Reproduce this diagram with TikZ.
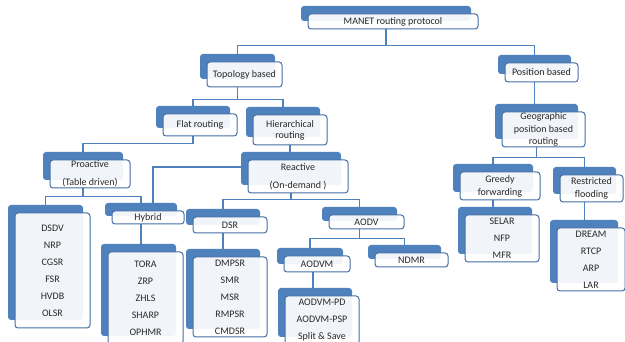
\documentclass[tikz,border=0pt]{standalone}
\usepackage{fontspec}
\setmainfont{Carlito}
\usepackage{tikz}
\usetikzlibrary{
  shadows,
  backgrounds
}
\definecolor{boxblue}{RGB}{79,129,189}
\definecolor{edgeblue}{RGB}{70,110,165}
\definecolor{labelgray}{RGB}{40,40,40}

\begin{document}
\begin{tikzpicture}[
  x=1pt, y=-1pt,
  box/.style={rectangle, draw=edgeblue, line width=1pt, rounded corners=3pt, fill=white, fill opacity=0.92, text opacity=1, text=labelgray, align=center, inner sep=0pt, font=\fontsize{10}{11}\selectfont, general shadow={shadow xshift=-7pt, shadow yshift=8pt, fill=boxblue, fill opacity=1, draw=none}},
  list/.style={box, font=\fontsize{10}{17}\selectfont},
  link/.style={draw=boxblue, line width=1.1pt},
]
\useasboundingbox (0,0) rectangle (625,342);

% Categories
\node[box, minimum width=170pt, minimum height=15pt] (manet) at (393,21.5) {MANET routing protocol};
\node[box, minimum width=75pt, minimum height=25pt] (topo) at (244.5,74.5) {Topology based};
\node[box, minimum width=73pt, minimum height=19pt] (position) at (541.5,72.5) {Position based};
\node[box, minimum width=74pt, minimum height=22pt] (flat) at (200,125) {Flat routing};
\node[box, minimum width=74pt, minimum height=30pt] (hier) at (290,130) {Hierarchical\\routing};
\node[box, minimum width=80pt, minimum height=28pt] (proactive) at (90,174) {Proactive\\[7pt](Table driven)};
\node[box, minimum width=100pt, minimum height=33pt] (reactive) at (298,176.5) {Reactive\\[7pt](On-demand )};
\node[box, minimum width=72pt, minimum height=13pt] (hybrid) at (148,217.5) {Hybrid};
\node[box, minimum width=74pt, minimum height=16pt] (dsr) at (230,225) {DSR};
\node[box, minimum width=75pt, minimum height=14pt] (aodv) at (366.5,222) {AODV};
\node[box, minimum width=66pt, minimum height=16pt] (aodvm) at (317,264) {AODVM};
\node[box, minimum width=73pt, minimum height=14pt] (ndmr) at (411.5,260) {NDMR};
\node[box, minimum width=83pt, minimum height=35pt, font=\fontsize{10}{12.5}\selectfont] (geo) at (543.5,129.5) {Geographic\\position based\\routing};
\node[box, minimum width=80pt, minimum height=28pt, font=\fontsize{10}{13}\selectfont] (greedy) at (500,186) {Greedy\\forwarding};
\node[box, minimum width=63pt, minimum height=27pt, font=\fontsize{10}{13}\selectfont] (restricted) at (591.5,188.5) {Restricted\\flooding};

% Protocol lists
\node[list, minimum width=75pt, minimum height=115pt] (dsdvlist) at (52.5,270.5) {DSDV\\NRP\\CGSR\\FSR\\HVDB\\OLSR};
\node[list, minimum width=75pt, minimum height=92pt] (toralist) at (145.5,298) {TORA\\ZRP\\ZHLS\\SHARP\\OPHMR};
\node[list, minimum width=74pt, minimum height=80pt] (dmpsrlist) at (230,297) {DMPSR\\SMR\\MSR\\RMPSR\\CMDSR};
\node[list, minimum width=74pt, minimum height=49pt] (aodvmlist) at (322,320.5) {AODVM-PD\\AODVM-PSP\\Split \& Save};
\node[list, minimum width=74pt, minimum height=47pt] (selarlist) at (502,238.5) {SELAR\\NFP\\MFR};
\node[list, minimum width=68pt, minimum height=63pt] (dreamlist) at (591,259.5) {DREAM\\RTCP\\ARP\\LAR};

% Tree lines
\begin{scope}[on background layer]
\draw[link] ([xshift=-7pt]manet.south) -- ++(0,16) -| ([xshift=-7pt]topo.north);
\draw[link] ([xshift=-7pt]manet.south) -- ++(0,16) -| ([xshift=-7pt]position.north);
\draw[link] ([xshift=-7pt]topo.south) -- ++(0,12) -| ([xshift=-7pt]flat.north);
\draw[link] ([xshift=-7pt]topo.south) -- ++(0,12) -| ([xshift=-7pt]hier.north);
\draw[link] ([xshift=-7pt]flat.south) -- ++(0,7) -| ([xshift=-7pt]proactive.north);
\draw[link] (hier.south) -- (hier.south |- reactive.north);
\draw[link] ([xshift=-7pt,yshift=9.5pt]reactive.west) -| ([xshift=5pt]hybrid.north);
\draw[link] ([xshift=-7pt]proactive.south) -- ++(0,8) -| ([xshift=-7pt]dsdvlist.north);
\draw[link] ([xshift=-7pt]proactive.south) -- ++(0,8) -| ([xshift=-7pt]hybrid.north);
\draw[link] ([xshift=-7pt]reactive.south) -- ++(0,6) -| ([xshift=-7pt]dsr.north);
\draw[link] ([xshift=-7pt]reactive.south) -- ++(0,6) -| ([xshift=-7pt]aodv.north);
\draw[link] ([xshift=-7pt]aodv.south) -- ++(0,9) -| ([xshift=-7pt]aodvm.north);
\draw[link] ([xshift=-7pt]aodv.south) -- ++(0,9) -| ([xshift=-7pt]ndmr.north);
\draw[link] ([xshift=-7pt]hybrid.south) -- ([xshift=-7pt]hybrid.south |- toralist.north);
\draw[link] ([xshift=-7pt]dsr.south) -- ([xshift=-7pt]dsr.south |- dmpsrlist.north);
\draw[link] ([xshift=-4pt]aodvm.south) -- ([xshift=-4pt]aodvm.south |- aodvmlist.north);
\draw[link] ([xshift=-7pt]position.south) -- ([xshift=-7pt]position.south |- geo.north);
\draw[link] ([xshift=-7pt]geo.south) -- ++(0,10) -| ([xshift=-7pt]greedy.north);
\draw[link] ([xshift=-7pt]geo.south) -- ++(0,10) -| ([xshift=-7pt]restricted.north);
\draw[link] ([xshift=-7pt]greedy.south) -- ([xshift=-7pt]greedy.south |- selarlist.north);
\draw[link] ([xshift=-7pt]restricted.south) -- ([xshift=-7pt]restricted.south |- dreamlist.north);
\end{scope}
\end{tikzpicture}
\end{document}
